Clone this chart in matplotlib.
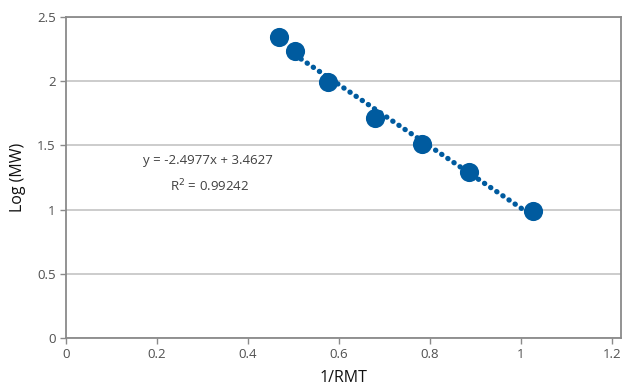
import numpy as np
from matplotlib import pyplot as plt

# ---------- data ----------
inv_rmt = [0.468, 0.503, 0.576, 0.679, 0.782, 0.886, 1.026]
log_mw = [2.344, 2.235, 1.994, 1.713, 1.511, 1.293, 0.989]
x_ticks = [0, 0.2, 0.4, 0.6, 0.8, 1, 1.2]
y_ticks = [0, 0.5, 1, 1.5, 2, 2.5]
eq_text = 'y = -2.4977x + 3.4627'
r2_text = 'R$^2$ = 0.99242'

plt.rcParams['font.family'] = ['Open Sans', 'DejaVu Sans']
blue = '#005b9f'

fig = plt.figure(figsize=(6.23, 3.87), dpi=100)
ax = fig.add_axes([0.106, 0.1266, 0.891, 0.8294])

# trendline (linear fit of the points)
coef = np.polyfit(inv_rmt, log_mw, 1)
xs = np.array([inv_rmt[1], inv_rmt[-1]])
ax.plot(xs, np.polyval(coef, xs), color=blue, lw=3.8, ls=(0, (0.05, 1.35)),
        dash_capstyle='round', zorder=3)
ax.plot(inv_rmt, log_mw, 'o', color=blue, ms=13.8, mew=0, zorder=4)

ax.set_xlim(0, 1.22)
ax.set_ylim(0, 2.5)
ax.set_xticks(x_ticks)
ax.set_xticklabels([f'{v:g}' for v in x_ticks])
ax.set_yticks(y_ticks)
ax.set_yticklabels([f'{v:g}' for v in y_ticks])
ax.grid(axis='y', color='#c4c4c4', lw=1.2)
ax.set_axisbelow(True)
for s in ax.spines.values():
    s.set_color('#8a8a8a')
    s.set_linewidth(1.3)
ax.tick_params(colors='#8a8a8a', labelcolor='#505050', labelsize=9.5, length=4, width=1)

ax.set_xlabel('1/RMT', fontsize=11.5, color='#111111', labelpad=6)
ax.set_ylabel('Log (MW)', fontsize=11.5, color='#111111', labelpad=8)

ax.text(0.312, 1.386, eq_text, ha='center', va='center', fontsize=9.5, color='#404040')
ax.text(0.316, 1.184, r2_text, ha='center', va='center', fontsize=9.5, color='#404040')

fig.savefig('out.png', dpi=100)
